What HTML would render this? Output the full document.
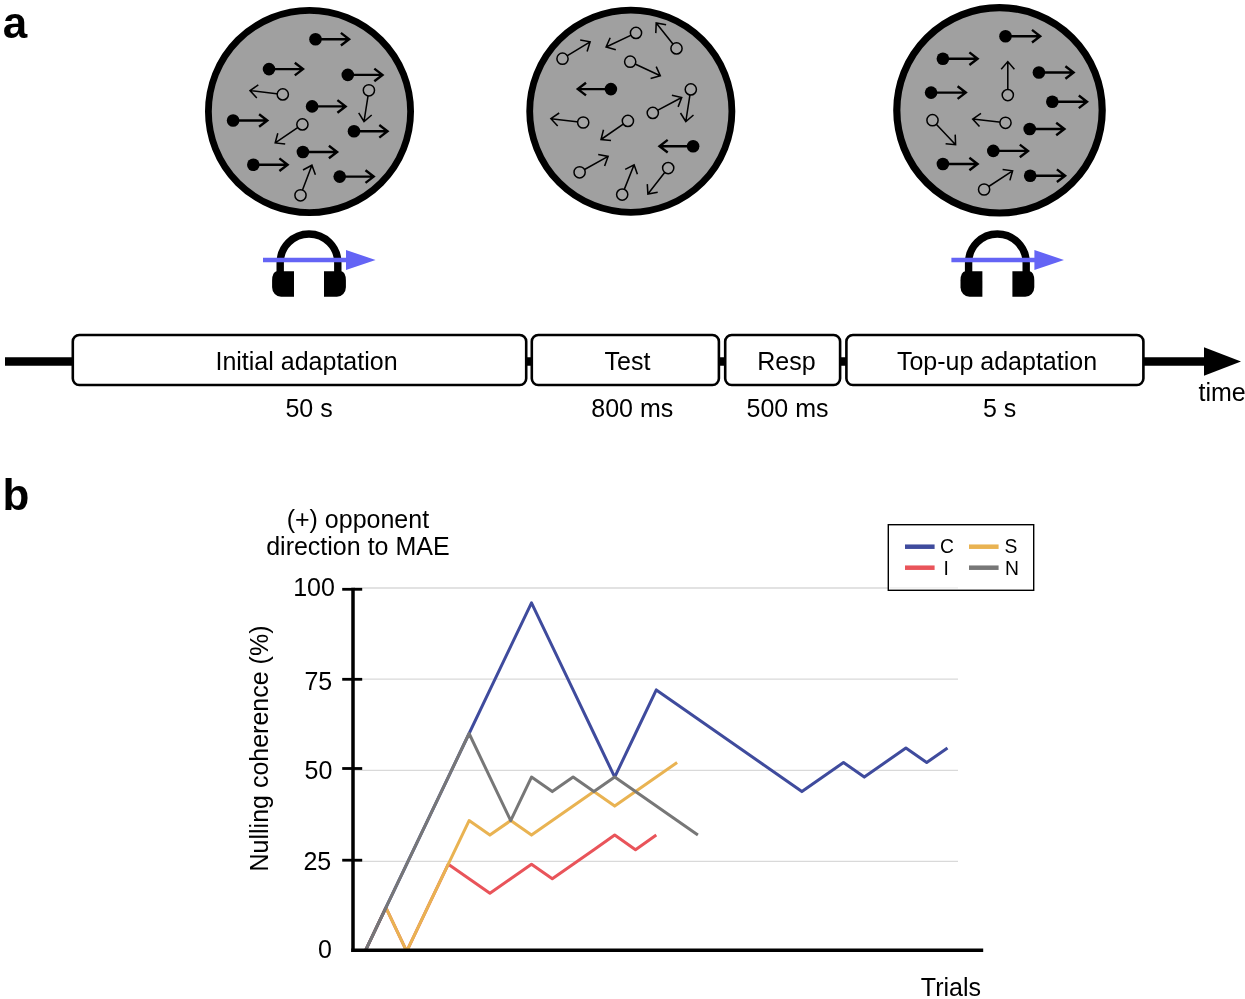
<!DOCTYPE html>
<html lang="en"><head><meta charset="utf-8"><title>Figure</title>
<style>html,body{margin:0;padding:0;background:#fff}svg{display:block}</style></head>
<body>
<svg width="1245" height="999" viewBox="0 0 1245 999" font-family="'Liberation Sans', sans-serif" fill="#000">
<rect width="1245" height="999" fill="#fff"/>
<text x="2.8" y="38.2" font-size="44" font-weight="bold">a</text>
<text x="2.6" y="509.8" font-size="44" font-weight="bold">b</text>
<circle cx="309.5" cy="111.5" r="101.1" fill="#a0a0a0" stroke="#000" stroke-width="6.8"/>
<path d="M282.8 94.4L250.0 90.6M258.3 84.9L250.0 90.6L256.8 98.0" fill="none" stroke="#000" stroke-width="1.55" stroke-linejoin="miter" stroke-linecap="butt"/>
<circle cx="282.8" cy="94.4" r="5.6" fill="#a4a4a4" stroke="#000" stroke-width="1.5"/>
<path d="M368.9 90.3L364.0 121.5M358.7 112.9L364.0 121.5L371.7 115.0" fill="none" stroke="#000" stroke-width="1.55" stroke-linejoin="miter" stroke-linecap="butt"/>
<circle cx="368.9" cy="90.3" r="5.6" fill="#a4a4a4" stroke="#000" stroke-width="1.5"/>
<path d="M302.4 124.4L275.2 142.9M277.8 133.2L275.2 142.9L285.2 144.1" fill="none" stroke="#000" stroke-width="1.55" stroke-linejoin="miter" stroke-linecap="butt"/>
<circle cx="302.4" cy="124.4" r="5.6" fill="#a4a4a4" stroke="#000" stroke-width="1.5"/>
<path d="M300.5 195.3L311.9 165.2M315.4 174.7L311.9 165.2L303.0 170.0" fill="none" stroke="#000" stroke-width="1.55" stroke-linejoin="miter" stroke-linecap="butt"/>
<circle cx="300.5" cy="195.3" r="5.6" fill="#a4a4a4" stroke="#000" stroke-width="1.5"/>
<path d="M315.5 39.2L349.1 39.2M340.9 45.5L349.1 39.2L340.9 32.9" fill="none" stroke="#000" stroke-width="2.4" stroke-linejoin="miter" stroke-linecap="butt"/>
<circle cx="315.5" cy="39.2" r="6.3" fill="#000"/>
<path d="M269.0 69.1L303.0 69.1M294.8 75.4L303.0 69.1L294.8 62.8" fill="none" stroke="#000" stroke-width="2.4" stroke-linejoin="miter" stroke-linecap="butt"/>
<circle cx="269.0" cy="69.1" r="6.3" fill="#000"/>
<path d="M347.8 74.9L382.5 74.9M374.3 81.2L382.5 74.9L374.3 68.6" fill="none" stroke="#000" stroke-width="2.4" stroke-linejoin="miter" stroke-linecap="butt"/>
<circle cx="347.8" cy="74.9" r="6.3" fill="#000"/>
<path d="M312.1 106.4L345.6 106.4M337.4 112.7L345.6 106.4L337.4 100.1" fill="none" stroke="#000" stroke-width="2.4" stroke-linejoin="miter" stroke-linecap="butt"/>
<circle cx="312.1" cy="106.4" r="6.3" fill="#000"/>
<path d="M233.1 120.5L267.3 120.5M259.1 126.8L267.3 120.5L259.1 114.2" fill="none" stroke="#000" stroke-width="2.4" stroke-linejoin="miter" stroke-linecap="butt"/>
<circle cx="233.1" cy="120.5" r="6.3" fill="#000"/>
<path d="M354.0 131.3L387.5 131.3M379.3 137.6L387.5 131.3L379.3 125.0" fill="none" stroke="#000" stroke-width="2.4" stroke-linejoin="miter" stroke-linecap="butt"/>
<circle cx="354.0" cy="131.3" r="6.3" fill="#000"/>
<path d="M302.9 152.0L337.1 152.0M328.9 158.3L337.1 152.0L328.9 145.7" fill="none" stroke="#000" stroke-width="2.4" stroke-linejoin="miter" stroke-linecap="butt"/>
<circle cx="302.9" cy="152.0" r="6.3" fill="#000"/>
<path d="M253.3 164.7L287.6 164.7M279.4 171.0L287.6 164.7L279.4 158.4" fill="none" stroke="#000" stroke-width="2.4" stroke-linejoin="miter" stroke-linecap="butt"/>
<circle cx="253.3" cy="164.7" r="6.3" fill="#000"/>
<path d="M339.7 176.6L373.7 176.6M365.5 182.9L373.7 176.6L365.5 170.3" fill="none" stroke="#000" stroke-width="2.4" stroke-linejoin="miter" stroke-linecap="butt"/>
<circle cx="339.7" cy="176.6" r="6.3" fill="#000"/>
<circle cx="630.8" cy="111.2" r="101.1" fill="#a0a0a0" stroke="#000" stroke-width="6.8"/>
<path d="M562.5 58.7L590.1 41.8M587.1 51.4L590.1 41.8L580.2 40.1" fill="none" stroke="#000" stroke-width="1.55" stroke-linejoin="miter" stroke-linecap="butt"/>
<circle cx="562.5" cy="58.7" r="5.6" fill="#a4a4a4" stroke="#000" stroke-width="1.5"/>
<path d="M636.0 32.9L606.1 47.0M610.2 37.8L606.1 47.0L615.8 49.7" fill="none" stroke="#000" stroke-width="1.55" stroke-linejoin="miter" stroke-linecap="butt"/>
<circle cx="636.0" cy="32.9" r="5.6" fill="#a4a4a4" stroke="#000" stroke-width="1.5"/>
<path d="M676.5 48.4L656.2 23.0M666.1 24.8L656.2 23.0L655.8 33.1" fill="none" stroke="#000" stroke-width="1.55" stroke-linejoin="miter" stroke-linecap="butt"/>
<circle cx="676.5" cy="48.4" r="5.6" fill="#a4a4a4" stroke="#000" stroke-width="1.5"/>
<path d="M630.2 61.7L660.3 75.8M650.6 78.5L660.3 75.8L656.2 66.6" fill="none" stroke="#000" stroke-width="1.55" stroke-linejoin="miter" stroke-linecap="butt"/>
<circle cx="630.2" cy="61.7" r="5.6" fill="#a4a4a4" stroke="#000" stroke-width="1.5"/>
<path d="M690.8 89.4L685.8 121.5M680.5 113.0L685.8 121.5L693.5 115.0" fill="none" stroke="#000" stroke-width="1.55" stroke-linejoin="miter" stroke-linecap="butt"/>
<circle cx="690.8" cy="89.4" r="5.6" fill="#a4a4a4" stroke="#000" stroke-width="1.5"/>
<path d="M652.8 112.9L681.7 97.5M678.1 106.9L681.7 97.5L671.9 95.2" fill="none" stroke="#000" stroke-width="1.55" stroke-linejoin="miter" stroke-linecap="butt"/>
<circle cx="652.8" cy="112.9" r="5.6" fill="#a4a4a4" stroke="#000" stroke-width="1.5"/>
<path d="M583.2 122.5L550.9 118.7M559.2 113.0L550.9 118.7L557.7 126.1" fill="none" stroke="#000" stroke-width="1.55" stroke-linejoin="miter" stroke-linecap="butt"/>
<circle cx="583.2" cy="122.5" r="5.6" fill="#a4a4a4" stroke="#000" stroke-width="1.5"/>
<path d="M627.9 120.9L601.0 139.5M603.5 129.7L601.0 139.5L611.0 140.6" fill="none" stroke="#000" stroke-width="1.55" stroke-linejoin="miter" stroke-linecap="butt"/>
<circle cx="627.9" cy="120.9" r="5.6" fill="#a4a4a4" stroke="#000" stroke-width="1.5"/>
<path d="M579.6 172.3L608.1 156.4M604.6 165.9L608.1 156.4L598.2 154.4" fill="none" stroke="#000" stroke-width="1.55" stroke-linejoin="miter" stroke-linecap="butt"/>
<circle cx="579.6" cy="172.3" r="5.6" fill="#a4a4a4" stroke="#000" stroke-width="1.5"/>
<path d="M622.2 194.6L634.1 164.8M637.4 174.3L634.1 164.8L625.2 169.4" fill="none" stroke="#000" stroke-width="1.55" stroke-linejoin="miter" stroke-linecap="butt"/>
<circle cx="622.2" cy="194.6" r="5.6" fill="#a4a4a4" stroke="#000" stroke-width="1.5"/>
<path d="M668.2 168.1L647.9 194.1M647.3 184.1L647.9 194.1L657.7 192.2" fill="none" stroke="#000" stroke-width="1.55" stroke-linejoin="miter" stroke-linecap="butt"/>
<circle cx="668.2" cy="168.1" r="5.6" fill="#a4a4a4" stroke="#000" stroke-width="1.5"/>
<path d="M610.9 89.1L577.8 89.1M586.0 82.8L577.8 89.1L586.0 95.4" fill="none" stroke="#000" stroke-width="2.4" stroke-linejoin="miter" stroke-linecap="butt"/>
<circle cx="610.9" cy="89.1" r="6.3" fill="#000"/>
<path d="M693.1 146.2L659.5 146.2M667.7 139.9L659.5 146.2L667.7 152.5" fill="none" stroke="#000" stroke-width="2.4" stroke-linejoin="miter" stroke-linecap="butt"/>
<circle cx="693.1" cy="146.2" r="6.3" fill="#000"/>
<circle cx="999.5" cy="110.3" r="102.7" fill="#a0a0a0" stroke="#000" stroke-width="7.2"/>
<path d="M1007.8 95.1L1007.8 61.6M1014.4 69.2L1007.8 61.6L1001.2 69.2" fill="none" stroke="#000" stroke-width="1.55" stroke-linejoin="miter" stroke-linecap="butt"/>
<circle cx="1007.8" cy="95.1" r="5.6" fill="#a4a4a4" stroke="#000" stroke-width="1.5"/>
<path d="M1005.5 122.8L972.7 119.1M981.0 113.4L972.7 119.1L979.5 126.5" fill="none" stroke="#000" stroke-width="1.55" stroke-linejoin="miter" stroke-linecap="butt"/>
<circle cx="1005.5" cy="122.8" r="5.6" fill="#a4a4a4" stroke="#000" stroke-width="1.5"/>
<path d="M932.5 120.2L955.6 144.7M945.6 143.7L955.6 144.7L955.2 134.6" fill="none" stroke="#000" stroke-width="1.55" stroke-linejoin="miter" stroke-linecap="butt"/>
<circle cx="932.5" cy="120.2" r="5.6" fill="#a4a4a4" stroke="#000" stroke-width="1.5"/>
<path d="M984.1 189.5L1012.6 170.8M1009.9 180.4L1012.6 170.8L1002.6 169.4" fill="none" stroke="#000" stroke-width="1.55" stroke-linejoin="miter" stroke-linecap="butt"/>
<circle cx="984.1" cy="189.5" r="5.6" fill="#a4a4a4" stroke="#000" stroke-width="1.5"/>
<path d="M1005.5 36.2L1040.2 36.2M1032.0 42.5L1040.2 36.2L1032.0 29.9" fill="none" stroke="#000" stroke-width="2.4" stroke-linejoin="miter" stroke-linecap="butt"/>
<circle cx="1005.5" cy="36.2" r="6.3" fill="#000"/>
<path d="M942.9 58.7L977.6 58.7M969.4 65.0L977.6 58.7L969.4 52.4" fill="none" stroke="#000" stroke-width="2.4" stroke-linejoin="miter" stroke-linecap="butt"/>
<circle cx="942.9" cy="58.7" r="6.3" fill="#000"/>
<path d="M1038.9 72.5L1073.6 72.5M1065.4 78.8L1073.6 72.5L1065.4 66.2" fill="none" stroke="#000" stroke-width="2.4" stroke-linejoin="miter" stroke-linecap="butt"/>
<circle cx="1038.9" cy="72.5" r="6.3" fill="#000"/>
<path d="M931.1 92.6L965.8 92.6M957.6 98.9L965.8 92.6L957.6 86.3" fill="none" stroke="#000" stroke-width="2.4" stroke-linejoin="miter" stroke-linecap="butt"/>
<circle cx="931.1" cy="92.6" r="6.3" fill="#000"/>
<path d="M1052.3 101.8L1087.0 101.8M1078.8 108.1L1087.0 101.8L1078.8 95.5" fill="none" stroke="#000" stroke-width="2.4" stroke-linejoin="miter" stroke-linecap="butt"/>
<circle cx="1052.3" cy="101.8" r="6.3" fill="#000"/>
<path d="M1029.7 129.0L1064.4 129.0M1056.2 135.3L1064.4 129.0L1056.2 122.7" fill="none" stroke="#000" stroke-width="2.4" stroke-linejoin="miter" stroke-linecap="butt"/>
<circle cx="1029.7" cy="129.0" r="6.3" fill="#000"/>
<path d="M993.3 150.9L1028.0 150.9M1019.8 157.2L1028.0 150.9L1019.8 144.6" fill="none" stroke="#000" stroke-width="2.4" stroke-linejoin="miter" stroke-linecap="butt"/>
<circle cx="993.3" cy="150.9" r="6.3" fill="#000"/>
<path d="M942.9 164.0L977.6 164.0M969.4 170.3L977.6 164.0L969.4 157.7" fill="none" stroke="#000" stroke-width="2.4" stroke-linejoin="miter" stroke-linecap="butt"/>
<circle cx="942.9" cy="164.0" r="6.3" fill="#000"/>
<path d="M1030.2 175.7L1065.1 175.7M1056.9 182.0L1065.1 175.7L1056.9 169.4" fill="none" stroke="#000" stroke-width="2.4" stroke-linejoin="miter" stroke-linecap="butt"/>
<circle cx="1030.2" cy="175.7" r="6.3" fill="#000"/>
<path d="M280.2 272V262.7A28.8 28.8 0 0 1 337.8 262.7V272" fill="none" stroke="#000" stroke-width="7.4"/>
<path d="M294.0 271.2H276.7A4.6 9 0 0 0 272.1 280.2V287.3A9 9.5 0 0 0 281.1 296.8H294.0Z" fill="#000"/>
<path d="M324.0 271.2H341.3A4.6 9 0 0 1 345.9 280.2V287.3A9 9.5 0 0 1 336.9 296.8H324.0Z" fill="#000"/>
<path d="M263.0 257.8H346.0V250L375.6 260L346.0 270V262.2H263.0Z" fill="#6464f5"/>
<path d="M968.6 272V262.7A28.8 28.8 0 0 1 1026.2 262.7V272" fill="none" stroke="#000" stroke-width="7.4"/>
<path d="M982.4 271.2H965.1A4.6 9 0 0 0 960.5 280.2V287.3A9 9.5 0 0 0 969.5 296.8H982.4Z" fill="#000"/>
<path d="M1012.4 271.2H1029.7A4.6 9 0 0 1 1034.3 280.2V287.3A9 9.5 0 0 1 1025.3 296.8H1012.4Z" fill="#000"/>
<path d="M951.4 257.8H1034.4V250L1064.0 260L1034.4 270V262.2H951.4Z" fill="#6464f5"/>
<path d="M5 361.5H1206" stroke="#000" stroke-width="8.4" fill="none"/>
<path d="M1204 347.3L1241 361.5L1204 375.7Z" fill="#000"/>
<rect x="72.8" y="335" width="453.4" height="50" rx="6.5" ry="6.5" fill="#fff" stroke="#000" stroke-width="2.6"/>
<text x="306.5" y="369.6" font-size="25" text-anchor="middle">Initial adaptation</text>
<text x="309.1" y="417.2" font-size="25" text-anchor="middle">50 s</text>
<rect x="531.8" y="335" width="187.10000000000005" height="50" rx="6.5" ry="6.5" fill="#fff" stroke="#000" stroke-width="2.6"/>
<text x="627.5" y="369.6" font-size="25" text-anchor="middle">Test</text>
<text x="632.3" y="417.2" font-size="25" text-anchor="middle">800 ms</text>
<rect x="725.1999999999999" y="335" width="114.9" height="50" rx="6.5" ry="6.5" fill="#fff" stroke="#000" stroke-width="2.6"/>
<text x="786.5" y="369.6" font-size="25" text-anchor="middle">Resp</text>
<text x="787.5" y="417.2" font-size="25" text-anchor="middle">500 ms</text>
<rect x="846.4" y="335" width="297.0" height="50" rx="6.5" ry="6.5" fill="#fff" stroke="#000" stroke-width="2.6"/>
<text x="997.0" y="369.6" font-size="25" text-anchor="middle">Top-up adaptation</text>
<text x="999.7" y="417.2" font-size="25" text-anchor="middle">5 s</text>
<text x="1198.5" y="401.2" font-size="25">time</text>
<path d="M354 588H958" stroke="#d9d9d9" stroke-width="1.3" fill="none"/>
<path d="M354 679.2H958" stroke="#d9d9d9" stroke-width="1.3" fill="none"/>
<path d="M354 770.4H958" stroke="#d9d9d9" stroke-width="1.3" fill="none"/>
<path d="M354 861.3H958" stroke="#d9d9d9" stroke-width="1.3" fill="none"/>
<rect x="888.3" y="524.7" width="145.4" height="65.6" fill="#fff" stroke="#000" stroke-width="1.4"/>
<path d="M890 587.8H958" stroke="#eee" stroke-width="1.2" fill="none"/>
<path d="M905 546.7h29.6" stroke="#3f4b9d" stroke-width="4.5" fill="none"/>
<path d="M905 567.7h29.6" stroke="#e9545a" stroke-width="4.5" fill="none"/>
<path d="M969 546.7h29.6" stroke="#e9b352" stroke-width="4.5" fill="none"/>
<path d="M969 567.7h29.6" stroke="#777" stroke-width="4.5" fill="none"/>
<text x="946.9" y="553.4" font-size="19.3" text-anchor="middle">C</text>
<text x="946.3" y="574.6" font-size="19.3" text-anchor="middle">I</text>
<text x="1010.9" y="553.4" font-size="19.3" text-anchor="middle">S</text>
<text x="1011.9" y="574.6" font-size="19.3" text-anchor="middle">N</text>
<clipPath id="plot"><rect x="354" y="580" width="640" height="371"/></clipPath>
<polyline clip-path="url(#plot)" points="365.1,951.3 385.9,907.7 406.7,951.3 427.5,907.7 448.3,864.2 469.1,878.7 489.9,893.2 510.7,878.7 531.5,864.2 552.3,878.7 573.1,864.2 593.9,849.7 614.7,835.1 635.5,849.7 656.3,835.1" fill="none" stroke="#e9545a" stroke-width="3" stroke-linejoin="round" stroke-linecap="butt"/>
<polyline clip-path="url(#plot)" points="365.1,951.3 385.9,907.7 406.7,951.3 427.5,907.7 448.3,864.2 469.1,820.6 489.9,835.1 510.7,820.6 531.5,835.1 552.3,820.6 573.1,806.1 593.9,791.6 614.7,806.1 635.5,791.6 656.3,777.1 677.1,762.5" fill="none" stroke="#e9b352" stroke-width="3" stroke-linejoin="round" stroke-linecap="butt"/>
<polyline clip-path="url(#plot)" points="365.1,951.3 385.9,907.7 406.7,864.2 427.5,820.6 448.3,777.1 469.1,733.5 489.9,689.9 510.7,646.4 531.5,602.8 552.3,646.4 573.1,689.9 593.9,733.5 614.7,777.1 635.5,733.5 656.3,689.9 677.1,704.5 697.9,719.0 718.7,733.5 739.5,748.0 760.3,762.5 781.1,777.1 801.9,791.6 822.7,777.1 843.5,762.5 864.3,777.1 885.1,762.5 905.9,748.0 926.7,762.5 947.5,748.0" fill="none" stroke="#3f4b9d" stroke-width="3" stroke-linejoin="round" stroke-linecap="butt"/>
<polyline clip-path="url(#plot)" points="365.1,951.3 385.9,907.7 406.7,864.2 427.5,820.6 448.3,777.1 469.1,733.5 489.9,777.1 510.7,820.6 531.5,777.1 552.3,791.6 573.1,777.1 593.9,791.6 614.7,777.1 635.5,791.6 656.3,806.1 677.1,820.6 697.9,835.1" fill="none" stroke="#777" stroke-width="3" stroke-linejoin="round" stroke-linecap="butt"/>
<path d="M353 587.7V952" stroke="#000" stroke-width="3.5" fill="none"/>
<path d="M351.3 950.3H983.2" stroke="#000" stroke-width="3.4" fill="none"/>
<path d="M342.2 589.3H362.2" stroke="#000" stroke-width="2.8" fill="none"/>
<path d="M342.2 679.3H362.2" stroke="#000" stroke-width="2.8" fill="none"/>
<path d="M342.2 768.5H362.2" stroke="#000" stroke-width="2.8" fill="none"/>
<path d="M342.2 860.2H362.2" stroke="#000" stroke-width="2.8" fill="none"/>
<text x="334.9" y="596.3" font-size="25" text-anchor="end">100</text>
<text x="332.2" y="689.5" font-size="25" text-anchor="end">75</text>
<text x="332.4" y="779.3" font-size="25" text-anchor="end">50</text>
<text x="331.2" y="870.4" font-size="25" text-anchor="end">25</text>
<text x="331.8" y="958.2" font-size="25" text-anchor="end">0</text>
<text x="357.9" y="527.6" font-size="25" text-anchor="middle">(+) opponent</text>
<text x="357.9" y="554.9" font-size="25" text-anchor="middle">direction to MAE</text>
<text transform="translate(268.1 748.5) rotate(-90)" font-size="25" text-anchor="middle">Nulling coherence (%)</text>
<text x="981" y="995.5" font-size="25" text-anchor="end">Trials</text>
</svg>
</body></html>
